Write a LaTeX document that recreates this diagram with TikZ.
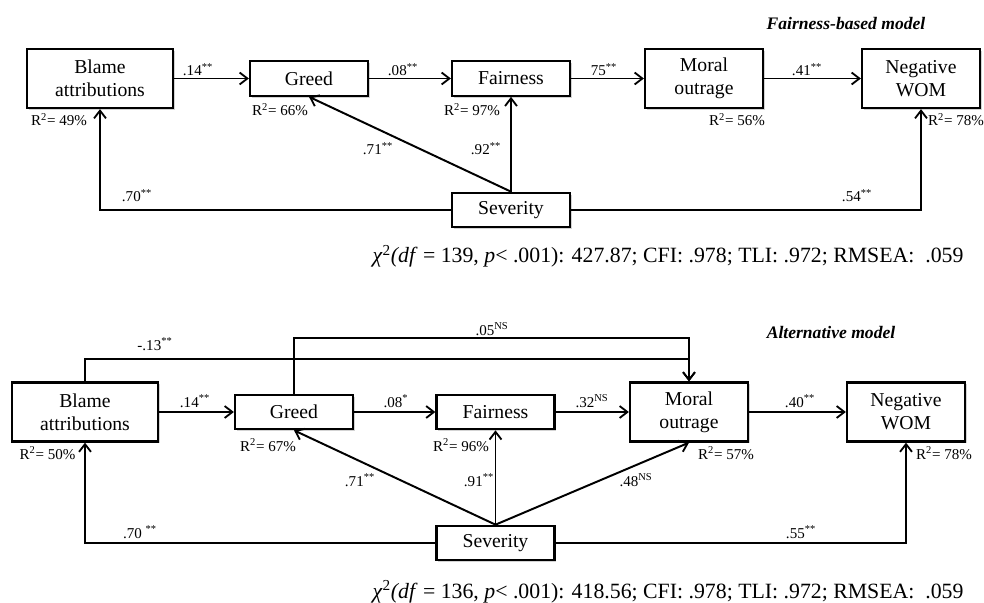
\documentclass[tikz,border=0pt]{standalone}
\usepackage{fontspec}
\setmainfont{Liberation Serif}
\usetikzlibrary{
    arrows.meta,
    shadows
}

\tikzset{
    var/.style={draw, line width=1.6pt, fill=white, inner sep=0pt, align=center,
        font=\fontsize{14}{16.5}\selectfont,
        drop shadow={shadow xshift=1.3pt, shadow yshift=-1.3pt, opacity=0.35, fill=gray}},
    bigbox/.style={var, minimum width=3.65cm, minimum height=1.475cm},
    midbox/.style={var, minimum width=2.95cm, minimum height=1.475cm},
    smallbox/.style={var, minimum width=2.95cm, minimum height=0.86cm},
    link/.style={line width=1.4pt, -{Straight Barb[length=5.5pt,width=8.5pt,line width=1.3pt]}},
    coef/.style={font=\fontsize{10.7}{12}\selectfont, inner sep=0pt, anchor=base},
    fitline/.style={font=\fontsize{15.5}{18}\selectfont, inner sep=0pt, anchor=base},
    modeltitle/.style={font=\fontsize{12.5}{14}\selectfont\bfseries\itshape, inner sep=0pt, anchor=base}
}

\begin{document}
\begin{tikzpicture}[x=0.025cm, y=-0.025cm]

\useasboundingbox (0,0) rectangle (984,603);

% Fairness-based model
\node[modeltitle] (title1) at (846,30) {Fairness-based model};

\node[bigbox] (blame1) at (100,78.5) {Blame\\attributions};
\node[smallbox] (greed1) at (309,78.5) {Greed};
\node[smallbox] (fair1) at (511,78.5) {Fairness};
\node[midbox] (moral1) at (704,78.5) {Moral\\outrage};
\node[midbox] (wom1) at (921,78.5) {Negative\\WOM};
\node[smallbox] (sev1) at (511,210) {Severity};

\draw[link] (blame1) -- (greed1);
\draw[link] (greed1) -- (fair1);
\draw[link] (fair1) -- (moral1);
\draw[link] (moral1) -- (wom1);
\draw[link] (sev1.west) -| (blame1.south);
\draw[link] (sev1.east) -| (wom1.south);
\draw[link] (sev1.north) -- (fair1.south);
\draw[link] (sev1.north) -- (greed1.south);

\node[coef] (b14a) at (198,76) {.14\textsuperscript{**}};
\node[coef] (b08a) at (403,76) {.08\textsuperscript{**}};
\node[coef] (b75a) at (604,76) {75\textsuperscript{**}};
\node[coef] (b41a) at (807,76) {.41\textsuperscript{**}};
\node[coef] (b71a) at (378,155) {.71\textsuperscript{**}};
\node[coef] (b92a) at (486,155) {.92\textsuperscript{**}};
\node[coef] (b70a) at (137,202) {.70\textsuperscript{**}};
\node[coef] (b54a) at (857,202) {.54\textsuperscript{**}};

\node[coef] (r49) at (59,126) {R\textsuperscript{2}= 49\%};
\node[coef] (r66) at (280,116) {R\textsuperscript{2}= 66\%};
\node[coef] (r97) at (472,116) {R\textsuperscript{2}= 97\%};
\node[coef] (r56) at (737,126) {R\textsuperscript{2}= 56\%};
\node[coef] (r78a) at (956,126) {R\textsuperscript{2}= 78\%};

\node[fitline] (fit1) at (668,263) {\textit{χ}\textsuperscript{2}\textit{(df} = 139, \textit{p}< .001): 427.87; CFI: .978; TLI: .972; RMSEA: ~.059};

% Alternative model
\node[modeltitle] (title2) at (831,338) {Alternative model};

\node[bigbox] (blame2) at (85,412) {Blame\\attributions};
\node[smallbox] (greed2) at (294,412) {Greed};
\node[smallbox] (fair2) at (495.5,412) {Fairness};
\node[midbox] (moral2) at (689,412) {Moral\\outrage};
\node[midbox] (wom2) at (906,412) {Negative\\WOM};
\node[smallbox] (sev2) at (495.5,543) {Severity};

\coordinate (lvlB) at (0,359);
\coordinate (lvlG) at (0,338);

\draw[link] (blame2) -- (greed2);
\draw[link] (greed2) -- (fair2);
\draw[link] (fair2) -- (moral2);
\draw[link] (moral2) -- (wom2);
\draw[link] (blame2.north) -- (blame2.north |- lvlB) -| (moral2.north);
\draw[link] (greed2.north) -- (greed2.north |- lvlG) -| (moral2.north);
\draw[link] (sev2.west) -| (blame2.south);
\draw[link] (sev2.east) -| (wom2.south);
\draw[link] (sev2.north) -- (greed2.south);
\draw[link] (sev2.north) -- (fair2.south);
\draw[link] (sev2.north) -- (moral2.south);

\node[coef] (b13) at (155,350) {-.13\textsuperscript{**}};
\node[coef] (b05) at (492,335) {.05\textsuperscript{NS}};
\node[coef] (b14b) at (195,407) {.14\textsuperscript{**}};
\node[coef] (b08b) at (396,407) {.08\textsuperscript{*}};
\node[coef] (b32) at (592,407) {.32\textsuperscript{NS}};
\node[coef] (b40) at (800,407) {.40\textsuperscript{**}};
\node[coef] (b71b) at (360,486) {.71\textsuperscript{**}};
\node[coef] (b91) at (479,486) {.91\textsuperscript{**}};
\node[coef] (b48) at (636,486) {.48\textsuperscript{NS}};
\node[coef] (b70b) at (140,538) {.70 \textsuperscript{**}};
\node[coef] (b55) at (801,538) {.55\textsuperscript{**}};

\node[coef] (r50) at (47.5,459) {R\textsuperscript{2}= 50\%};
\node[coef] (r67) at (268,451) {R\textsuperscript{2}= 67\%};
\node[coef] (r96) at (461,451) {R\textsuperscript{2}= 96\%};
\node[coef] (r57) at (726,459) {R\textsuperscript{2}= 57\%};
\node[coef] (r78b) at (944,459) {R\textsuperscript{2}= 78\%};

\node[fitline] (fit2) at (668,598) {\textit{χ}\textsuperscript{2}\textit{(df} = 136, \textit{p}< .001): 418.56; CFI: .978; TLI: .972; RMSEA: ~.059};

\end{tikzpicture}
\end{document}
